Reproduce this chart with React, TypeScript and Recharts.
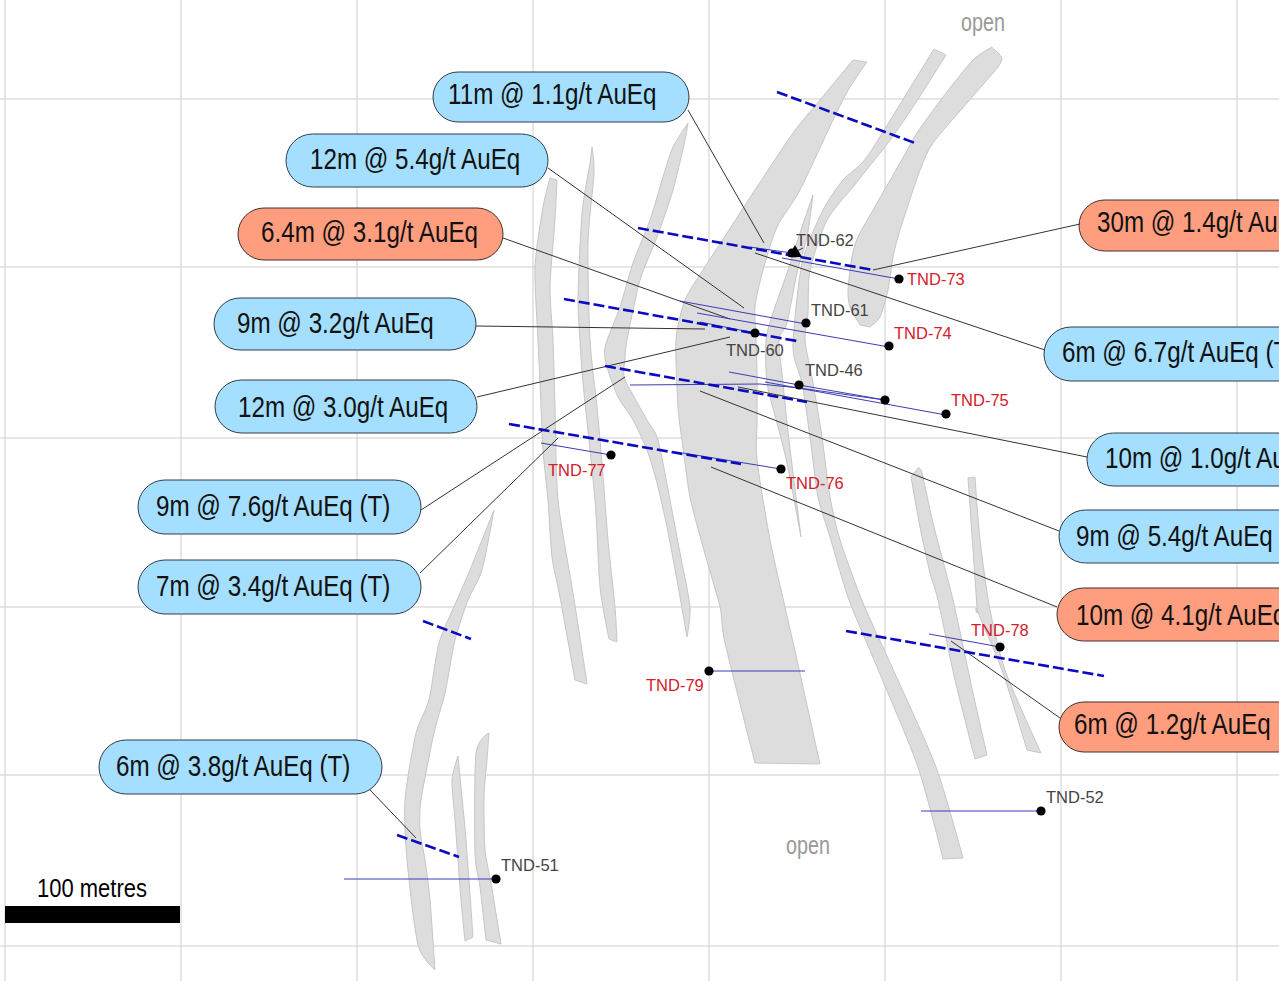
import { CartesianGrid, ReferenceArea, Scatter, ScatterChart, XAxis, YAxis } from 'recharts'

const gridX = [5, 181, 357, 533, 709, 885, 1061, 1237]
const gridY = [99, 267, 438, 607, 775, 946]

type Pt = [number, number]

// grey mineralised bodies, clockwise outlines
const bodies: Pt[][] = [
  // main body
  [[853, 60], [867, 62], [850, 87], [833, 120], [800, 190], [777, 227], [763, 270], [755, 307], [756, 340], [757, 373], [757, 423], [757, 460], [770, 540], [785, 607], [797, 660], [820, 764], [755, 763], [725, 643], [720, 607], [703, 547], [690, 497], [682, 440], [678, 407], [676, 340], [685, 300], [703, 270], [727, 233], [753, 193], [793, 133], [820, 100]],
  // curved body left of main
  [[688, 123], [685, 140], [673, 190], [657, 237], [640, 280], [627, 340], [625, 357], [624, 377], [633, 395], [647, 420], [658, 440], [670, 500], [680, 553], [690, 607], [687, 637], [677, 580], [667, 527], [657, 483], [647, 450], [633, 420], [618, 397], [607, 367], [605, 347], [620, 307], [633, 263], [650, 220], [663, 177], [673, 147]],
  // far left
  [[550, 178], [557, 180], [555, 220], [550, 287], [553, 340], [555, 407], [558, 500], [573, 593], [585, 670], [587, 684], [575, 680], [560, 597], [552, 557], [548, 500], [543, 450], [540, 383], [538, 340], [535, 267], [543, 207]],
  // second from left
  [[592, 147], [594, 173], [588, 243], [590, 340], [597, 407], [602, 463], [608, 540], [615, 607], [617, 642], [609, 639], [600, 587], [595, 500], [583, 383], [580, 340], [578, 297], [582, 213], [590, 163]],
  // long east-curving body
  [[934, 49], [946, 55], [913, 107], [888, 143], [872, 163], [853, 187], [827, 220], [810, 270], [808, 313], [805, 340], [813, 383], [822, 437], [830, 497], [840, 540], [863, 603], [892, 667], [936, 767], [963, 858], [943, 859], [918, 767], [877, 667], [849, 600], [830, 537], [818, 497], [810, 437], [802, 383], [793, 347], [802, 263], [823, 210], [843, 180], [862, 163], [878, 140]],
  // thin splay
  [[813, 195], [807, 237], [797, 273], [787, 323], [779, 340], [783, 383], [787, 423], [793, 473], [801, 537], [787, 463], [777, 423], [767, 383], [766, 340], [773, 313], [787, 273], [802, 227]],
  // northeast body
  [[992, 47], [1002, 57], [998, 67], [967, 103], [933, 143], [920, 170], [900, 230], [893, 257], [888, 290], [880, 317], [870, 327], [860, 325], [850, 307], [848, 290], [852, 257], [858, 237], [877, 203], [900, 163], [917, 133], [943, 97], [973, 60]],
  // southeast pair
  [[918, 468], [922, 473], [933, 523], [953, 600], [973, 693], [987, 755], [975, 759], [955, 680], [938, 600], [930, 573], [920, 527], [911, 477]],
  [[968, 478], [975, 477], [980, 540], [990, 610], [1006, 673], [1041, 753], [1027, 750], [1003, 673], [977, 610], [977, 607]],
  // southwest group
  [[494, 510], [482, 570], [468, 600], [455, 640], [445, 693], [434, 733], [421, 800], [420, 830], [425, 860], [430, 900], [435, 970], [418, 945], [407, 860], [405, 800], [416, 733], [429, 700], [439, 643], [457, 600], [470, 570]],
  [[458, 756], [461, 787], [466, 840], [473, 937], [465, 941], [461, 900], [455, 820], [452, 780]],
  [[489, 733], [487, 760], [484, 797], [485, 850], [491, 883], [501, 944], [486, 940], [480, 887], [475, 853], [476, 753]],
]

// dashed section lines
const sections: Pt[][] = [
  [[777, 92], [915, 143]],
  [[638, 228], [873, 270]],
  [[564, 299], [797, 341]],
  [[605, 366], [807, 402]],
  [[509, 424], [741, 464]],
  [[846, 631], [1104, 676]],
  [[423, 621], [471, 639]],
  [[397, 835], [459, 857]],
]

// drill traces
const traces: Pt[][] = [
  [[750, 247], [792, 253]],
  [[782, 258], [899, 279]],
  [[680, 301], [806, 324]],
  [[697, 313], [889, 347]],
  [[700, 322], [755, 333]],
  [[729, 372], [799, 385], [885, 400]],
  [[630, 385], [760, 384], [799, 388], [885, 400]],
  [[765, 382], [946, 415]],
  [[541, 443], [611, 455]],
  [[683, 453], [781, 469]],
  [[929, 634], [1000, 647]],
  [[709, 671], [805, 671]],
  [[921, 811], [1041, 811]],
  [[344, 879], [496, 879]],
]

// callout leaders
const leaders: Pt[][] = [
  [[688, 110], [764, 243]],
  [[548, 168], [744, 308]],
  [[503, 238], [730, 319]],
  [[476, 326], [705, 329]],
  [[477, 397], [730, 337]],
  [[421, 510], [625, 377]],
  [[420, 573], [558, 438]],
  [[370, 790], [416, 838]],
  [[1080, 224], [873, 270]],
  [[1045, 350], [755, 253]],
  [[1087, 457], [738, 387]],
  [[1059, 531], [700, 391]],
  [[1057, 607], [711, 467]],
  [[1060, 718], [951, 641]],
  [[795, 252], [803, 248]],
]

const collarX = [792, 899, 806, 889, 755, 799, 885, 946, 611, 781, 1000, 709, 1041, 496]
const collarY = [253, 279, 323, 346, 333, 385, 400, 414, 455, 469, 647, 671, 811, 879]
const collars = collarX.map((x, i) => ({ x, y: collarY[i] }))

const blackHoles = [
  { label: 'TND-62', x: 796, y: 246 },
  { label: 'TND-61', x: 811, y: 316 },
  { label: 'TND-60', x: 726, y: 356 },
  { label: 'TND-46', x: 805, y: 376 },
  { label: 'TND-52', x: 1046, y: 803 },
  { label: 'TND-51', x: 501, y: 871 },
]
const redHoles = [
  { label: 'TND-73', x: 907, y: 285 },
  { label: 'TND-74', x: 894, y: 339 },
  { label: 'TND-75', x: 951, y: 406 },
  { label: 'TND-77', x: 548, y: 476 },
  { label: 'TND-76', x: 786, y: 489 },
  { label: 'TND-78', x: 971, y: 636 },
  { label: 'TND-79', x: 646, y: 691 },
]

// callouts, x2 runs past the right of the sheet where the original is cut off
const bluePills = [
  { label: '11m @ 1.1g/t AuEq', x1: 433, x2: 689, y1: 72, y2: 122, tx: 448, ty: 104 },
  { label: '12m @ 5.4g/t AuEq', x1: 286, x2: 548, y1: 134, y2: 187, tx: 310, ty: 169 },
  { label: '9m @ 3.2g/t AuEq', x1: 214, x2: 476, y1: 298, y2: 350, tx: 237, ty: 333 },
  { label: '12m @ 3.0g/t AuEq', x1: 215, x2: 477, y1: 380, y2: 433, tx: 238, ty: 417 },
  { label: '9m @ 7.6g/t AuEq (T)', x1: 138, x2: 421, y1: 480, y2: 534, tx: 156, ty: 516 },
  { label: '7m @ 3.4g/t AuEq (T)', x1: 138, x2: 421, y1: 560, y2: 614, tx: 156, ty: 596 },
  { label: '6m @ 3.8g/t AuEq (T)', x1: 99, x2: 382, y1: 740, y2: 794, tx: 116, ty: 776 },
  { label: '6m @ 6.7g/t AuEq (T)', x1: 1044, x2: 1330, y1: 327, y2: 381, tx: 1062, ty: 362 },
  { label: '10m @ 1.0g/t AuEq', x1: 1087, x2: 1350, y1: 433, y2: 486, tx: 1105, ty: 468 },
  { label: '9m @ 5.4g/t AuEq', x1: 1059, x2: 1320, y1: 510, y2: 563, tx: 1076, ty: 546 },
]
const orangePills = [
  { label: '6.4m @ 3.1g/t AuEq', x1: 238, x2: 503, y1: 208, y2: 260, tx: 261, ty: 242 },
  { label: '30m @ 1.4g/t AuEq', x1: 1079, x2: 1340, y1: 200, y2: 251, tx: 1097, ty: 232 },
  { label: '10m @ 4.1g/t AuEq', x1: 1057, x2: 1320, y1: 588, y2: 641, tx: 1076, ty: 625 },
  { label: '6m @ 1.2g/t AuEq', x1: 1059, x2: 1320, y1: 702, y2: 752, tx: 1074, ty: 734 },
]
const pillText = [...bluePills, ...orangePills].map(p => ({ label: p.label, x: p.tx, y: p.ty }))

const openLabels = [
  { label: 'open', x: 961, y: 31 },
  { label: 'open', x: 786, y: 854 },
]
const scaleLabel = [{ label: '100 metres', x: 37, y: 897 }]

const toRows = (pts: Pt[]) => pts.map(([x, y]) => ({ x, y }))

const NoMark = () => null

// closed outline, gentle bends are eased and real corners stay sharp
const bodyPath = (pts: { x: number; y: number }[]) => {
  const n = pts.length
  const at = (i: number) => pts[(i + n) % n]
  const tangent = (i: number) => {
    const a = at(i - 1), b = at(i), c = at(i + 1)
    const ux = b.x - a.x, uy = b.y - a.y, vx = c.x - b.x, vy = c.y - b.y
    const cos = (ux * vx + uy * vy) / (Math.hypot(ux, uy) * Math.hypot(vx, vy))
    if (cos < 0.75) return { x: 0, y: 0 }
    return { x: (c.x - a.x) * 0.12, y: (c.y - a.y) * 0.12 }
  }
  let d = `M${pts[0].x},${pts[0].y}`
  for (let i = 0; i < n; i++) {
    const p1 = at(i), p2 = at(i + 1), t1 = tangent(i), t2 = tangent(i + 1)
    d += `C${p1.x + t1.x},${p1.y + t1.y} ${p2.x - t2.x},${p2.y - t2.y} ${p2.x},${p2.y}`
  }
  return d + 'Z'
}

const bodyShape = (props: any) => (
  <path d={bodyPath(props.points)} fill="#dddddd" stroke="#c6c6c6" strokeWidth={1} />
)

const textShape = (size: number, squeeze: number, fill: string) => (props: any) => (
  <text
    transform={`translate(${props.cx},${props.cy}) scale(${squeeze},1)`}
    fontFamily="Liberation Sans"
    fontSize={size}
    fill={fill}
  >
    {props.payload.label}
  </text>
)

const collarShape = (props: any) => <circle cx={props.cx} cy={props.cy} r={4.6} fill="#000" />

const triangleShape = (props: any) => (
  <path d={`M${props.cx},${props.cy - 6}L${props.cx + 7},${props.cy + 6}L${props.cx - 7},${props.cy + 6}Z`} fill="#000" />
)

export default function App() {
  return (
    <div style={{ position: 'fixed', left: 0, top: 0, width: 1279, height: 981, overflow: 'hidden', background: '#fff' }}>
      <ScatterChart width={1279} height={981} margin={{ top: 0, right: 0, bottom: 0, left: 0 }}>
        <XAxis type="number" dataKey="x" domain={[0, 1279]} hide allowDataOverflow />
        <YAxis type="number" dataKey="y" domain={[0, 981]} reversed hide allowDataOverflow />
        <CartesianGrid stroke="#cdcdcd" verticalValues={gridX} horizontalValues={gridY} />

        {bodies.map((b, i) => (
          <Scatter key={`body-${i}`} data={toRows(b)} line={bodyShape} shape={NoMark} isAnimationActive={false} />
        ))}
        {leaders.map((l, i) => (
          <Scatter key={`leader-${i}`} data={toRows(l)} line={{ stroke: '#333', strokeWidth: 1 }} shape={NoMark} isAnimationActive={false} />
        ))}
        {traces.map((t, i) => (
          <Scatter key={`trace-${i}`} data={toRows(t)} line={{ stroke: '#3c3cb4', strokeWidth: 1 }} shape={NoMark} isAnimationActive={false} />
        ))}
        {sections.map((s, i) => (
          <Scatter key={`section-${i}`} data={toRows(s)} line={{ stroke: '#0a0ac0', strokeWidth: 2.6, strokeDasharray: '11 4' }} shape={NoMark} isAnimationActive={false} />
        ))}

        {bluePills.map(p => (
          <ReferenceArea key={p.label} x1={p.x1} x2={p.x2} y1={p.y1} y2={p.y2} radius={30} fill="#a4dfff" fillOpacity={1} stroke="#2f3c4a" strokeWidth={1} ifOverflow="visible" />
        ))}
        {orangePills.map(p => (
          <ReferenceArea key={p.label} x1={p.x1} x2={p.x2} y1={p.y1} y2={p.y2} radius={30} fill="#ff9e7f" fillOpacity={1} stroke="#3f312d" strokeWidth={1} ifOverflow="visible" />
        ))}
        <ReferenceArea x1={5} x2={180} y1={906} y2={923} fill="#000" fillOpacity={1} stroke="none" ifOverflow="visible" />

        <Scatter data={collars} shape={collarShape} isAnimationActive={false} />
        <Scatter data={[{ x: 795, y: 251 }]} shape={triangleShape} isAnimationActive={false} />
        <Scatter data={pillText} shape={textShape(29, 0.835, '#111')} isAnimationActive={false} />
        <Scatter data={blackHoles} shape={textShape(16.5, 1, '#444')} isAnimationActive={false} />
        <Scatter data={redHoles} shape={textShape(16.5, 1, '#d4202a')} isAnimationActive={false} />
        <Scatter data={openLabels} shape={textShape(26, 0.76, '#999')} isAnimationActive={false} />
        <Scatter data={scaleLabel} shape={textShape(26.5, 0.83, '#000')} isAnimationActive={false} />
      </ScatterChart>
    </div>
  )
}
